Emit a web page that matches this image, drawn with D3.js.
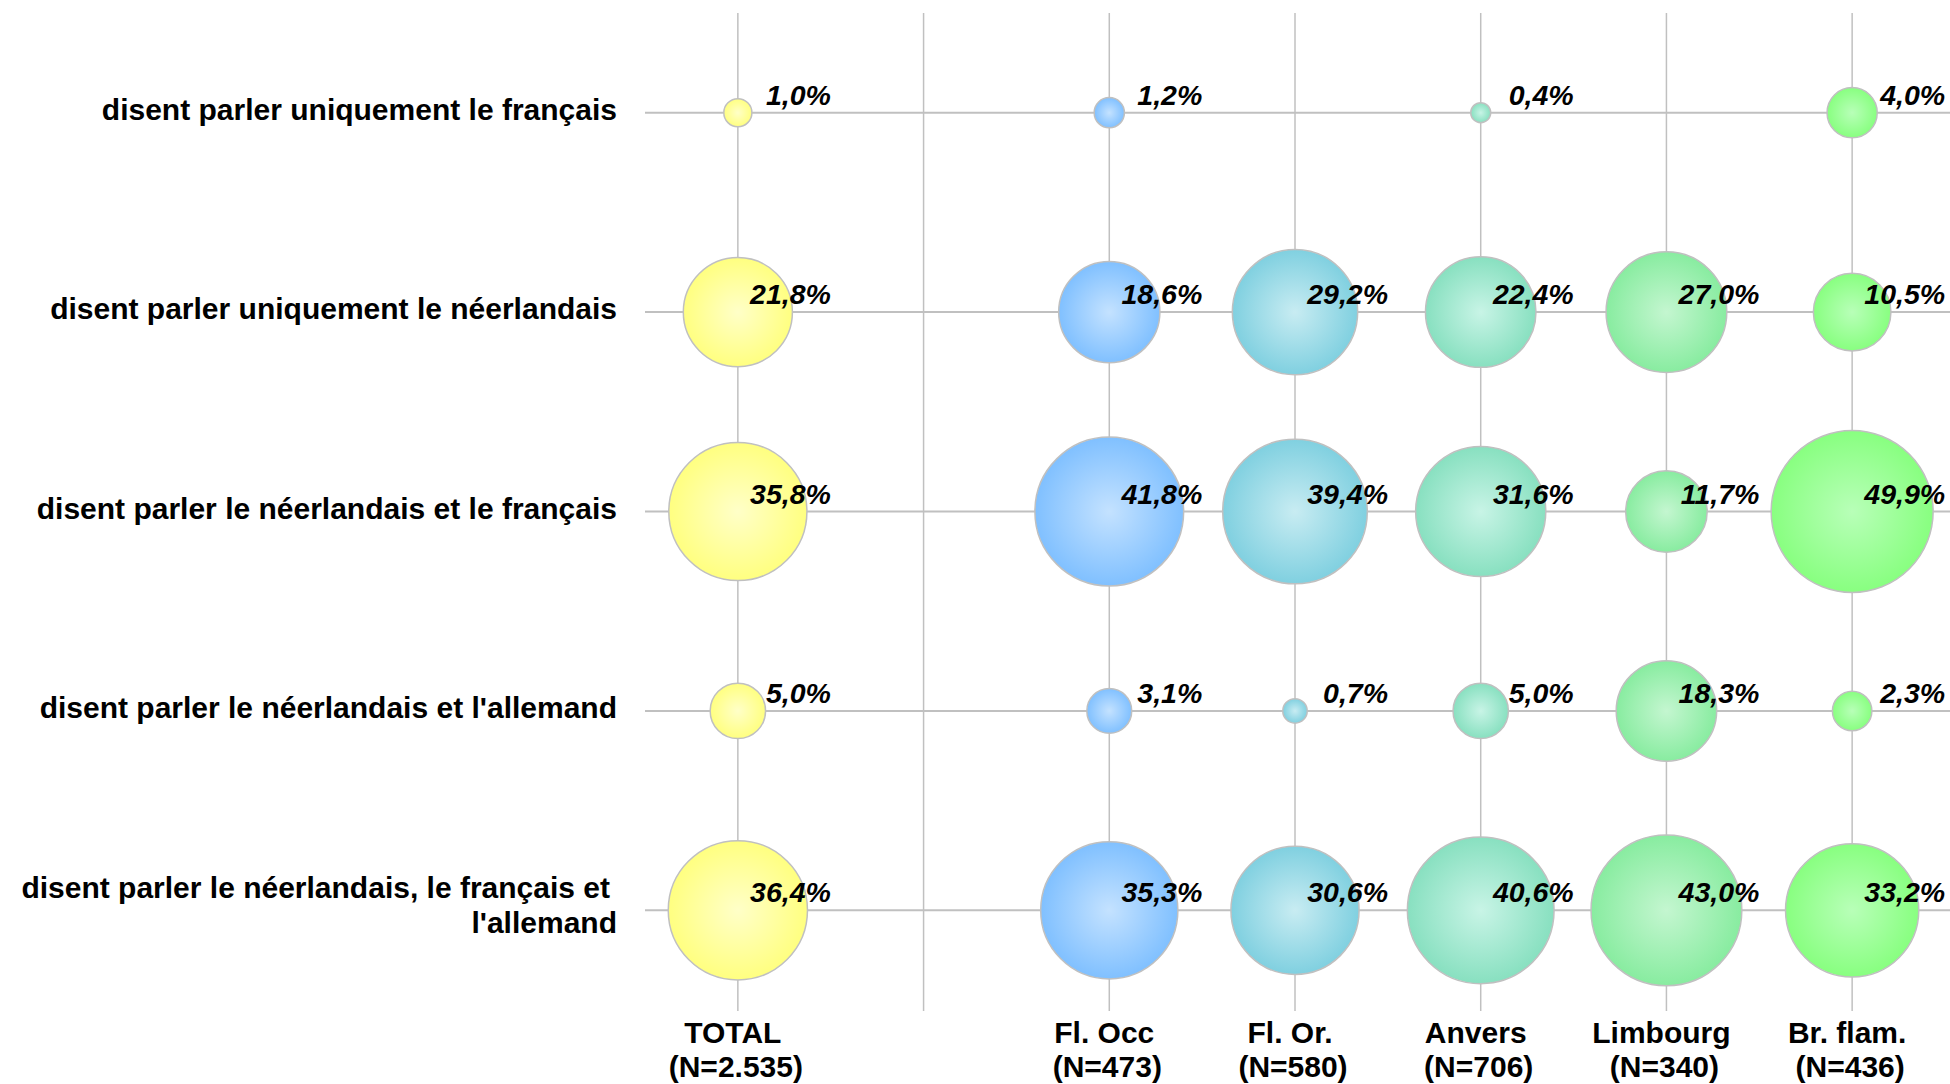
<!DOCTYPE html>
<html>
<head>
<meta charset="utf-8">
<script src="https://cdn.jsdelivr.net/npm/d3@7"></script>
<style>
  html, body { margin: 0; padding: 0; background: #ffffff; }
  svg { display: block; }
  text { font-family: "Liberation Sans", Arial, sans-serif; }
</style>
</head>
<body>
<svg id="chart" width="1950" height="1084"></svg>
<script>
// ---- data ----
const columns = ["TOTAL", "_gap", "Fl. Occ", "Fl. Or.", "Anvers", "Limbourg", "Br. flam."];
const columnN = ["(N=2.535)", "", "(N=473)", "(N=580)", "(N=706)", "(N=340)", "(N=436)"];
const rows = [
  ["disent parler uniquement le français"],
  ["disent parler uniquement le néerlandais"],
  ["disent parler le néerlandais et le français"],
  ["disent parler le néerlandais et l'allemand"],
  ["disent parler le néerlandais, le français et", "l'allemand"]
];
const valTOTAL    = [1.0, 21.8, 35.8, 5.0, 36.4];
const valFlOcc    = [1.2, 18.6, 41.8, 3.1, 35.3];
const valFlOr     = [null, 29.2, 39.4, 0.7, 30.6];
const valAnvers   = [0.4, 22.4, 31.6, 5.0, 40.6];
const valLimbourg = [null, 27.0, 11.7, 18.3, 43.0];
const valBrFlam   = [4.0, 10.5, 49.9, 2.3, 33.2];

const seriesList = [
  { col: "TOTAL", values: valTOTAL, edge: "#ffff80", center: "#ffffc8" },
  { col: "Fl. Occ", values: valFlOcc, edge: "#80c0ff", center: "#c4e2ff" },
  { col: "Fl. Or.", values: valFlOr, edge: "#80d0e0", center: "#c8ecf2" },
  { col: "Anvers", values: valAnvers, edge: "#88e0c0", center: "#c8f4e6" },
  { col: "Limbourg", values: valLimbourg, edge: "#88eca0", center: "#c4f6d0" },
  { col: "Br. flam.", values: valBrFlam, edge: "#88ff80", center: "#b8ffb8" }
];

// ---- layout ----
const svg = d3.select("#chart");
const rowKeys = rows.map((r, i) => i);
const x = d3.scalePoint().domain(columns).range([645, 1945]).padding(0.5);
const y = d3.scalePoint().domain(rowKeys).range([13, 1010]).padding(0.5);
const r = d3.scaleSqrt().domain([0, 49.9]).range([3, 81]);
const fmt = v => d3.format(".1f")(v).replace(".", ",") + "%";
const gridColor = "#c0c0c0";

// gridlines
svg.append("g").selectAll("line.v").data(columns).join("line")
  .attr("x1", d => x(d)).attr("x2", d => x(d))
  .attr("y1", 13).attr("y2", 1011)
  .attr("stroke", gridColor).attr("stroke-width", 1.5);
svg.append("g").selectAll("line.h").data(rowKeys).join("line")
  .attr("x1", 645).attr("x2", 1950)
  .attr("y1", d => y(d)).attr("y2", d => y(d))
  .attr("stroke", gridColor).attr("stroke-width", 2);

// gradients
const defs = svg.append("defs");
seriesList.forEach((s, i) => {
  const g = defs.append("radialGradient").attr("id", "grad" + i)
    .attr("cx", "50%").attr("cy", "50%").attr("r", "50%");
  g.append("stop").attr("offset", "0%").attr("stop-color", s.center);
  g.append("stop").attr("offset", "100%").attr("stop-color", s.edge);
});

// bubbles
const points = [];
seriesList.forEach((s, si) => {
  s.values.forEach((v, ri) => {
    if (v != null) points.push({ si, col: s.col, row: ri, v });
  });
});
svg.append("g").selectAll("circle").data(points).join("circle")
  .attr("cx", d => x(d.col)).attr("cy", d => y(d.row))
  .attr("r", d => r(d.v))
  .attr("fill", d => "url(#grad" + d.si + ")")
  .attr("stroke", "#c0c0c0").attr("stroke-width", 1.5);

// data labels
svg.append("g").selectAll("text").data(points).join("text")
  .attr("x", d => x(d.col) + 93).attr("y", d => y(d.row) - 8)
  .attr("text-anchor", "end")
  .attr("font-size", 28.5).attr("font-weight", "bold").attr("font-style", "italic")
  .attr("fill", "#000")
  .text(d => fmt(d.v));

// row labels
const rowG = svg.append("g");
rows.forEach((lines, i) => {
  const t = rowG.append("text")
    .attr("text-anchor", "end").attr("font-size", 30).attr("font-weight", "bold").attr("fill", "#000");
  const baseY = lines.length === 1 ? y(i) + 7 : y(i) - 12;
  lines.forEach((ln, j) => {
    t.append("tspan").attr("x", lines.length > 1 && j === 0 ? 610 : 617)
      .attr("y", baseY + j * 35).text(ln);
  });
});

// column labels
const colG = svg.append("g");
columns.forEach((c, i) => {
  if (c === "_gap") return;
  const t = colG.append("text").attr("text-anchor", "middle")
    .attr("font-size", 30).attr("font-weight", "bold").attr("fill", "#000");
  t.append("tspan").attr("x", x(c) - 5).attr("y", 1043).text(c);
  t.append("tspan").attr("x", x(c) - 2).attr("y", 1077).text(columnN[i]);
});
</script>
</body>
</html>
